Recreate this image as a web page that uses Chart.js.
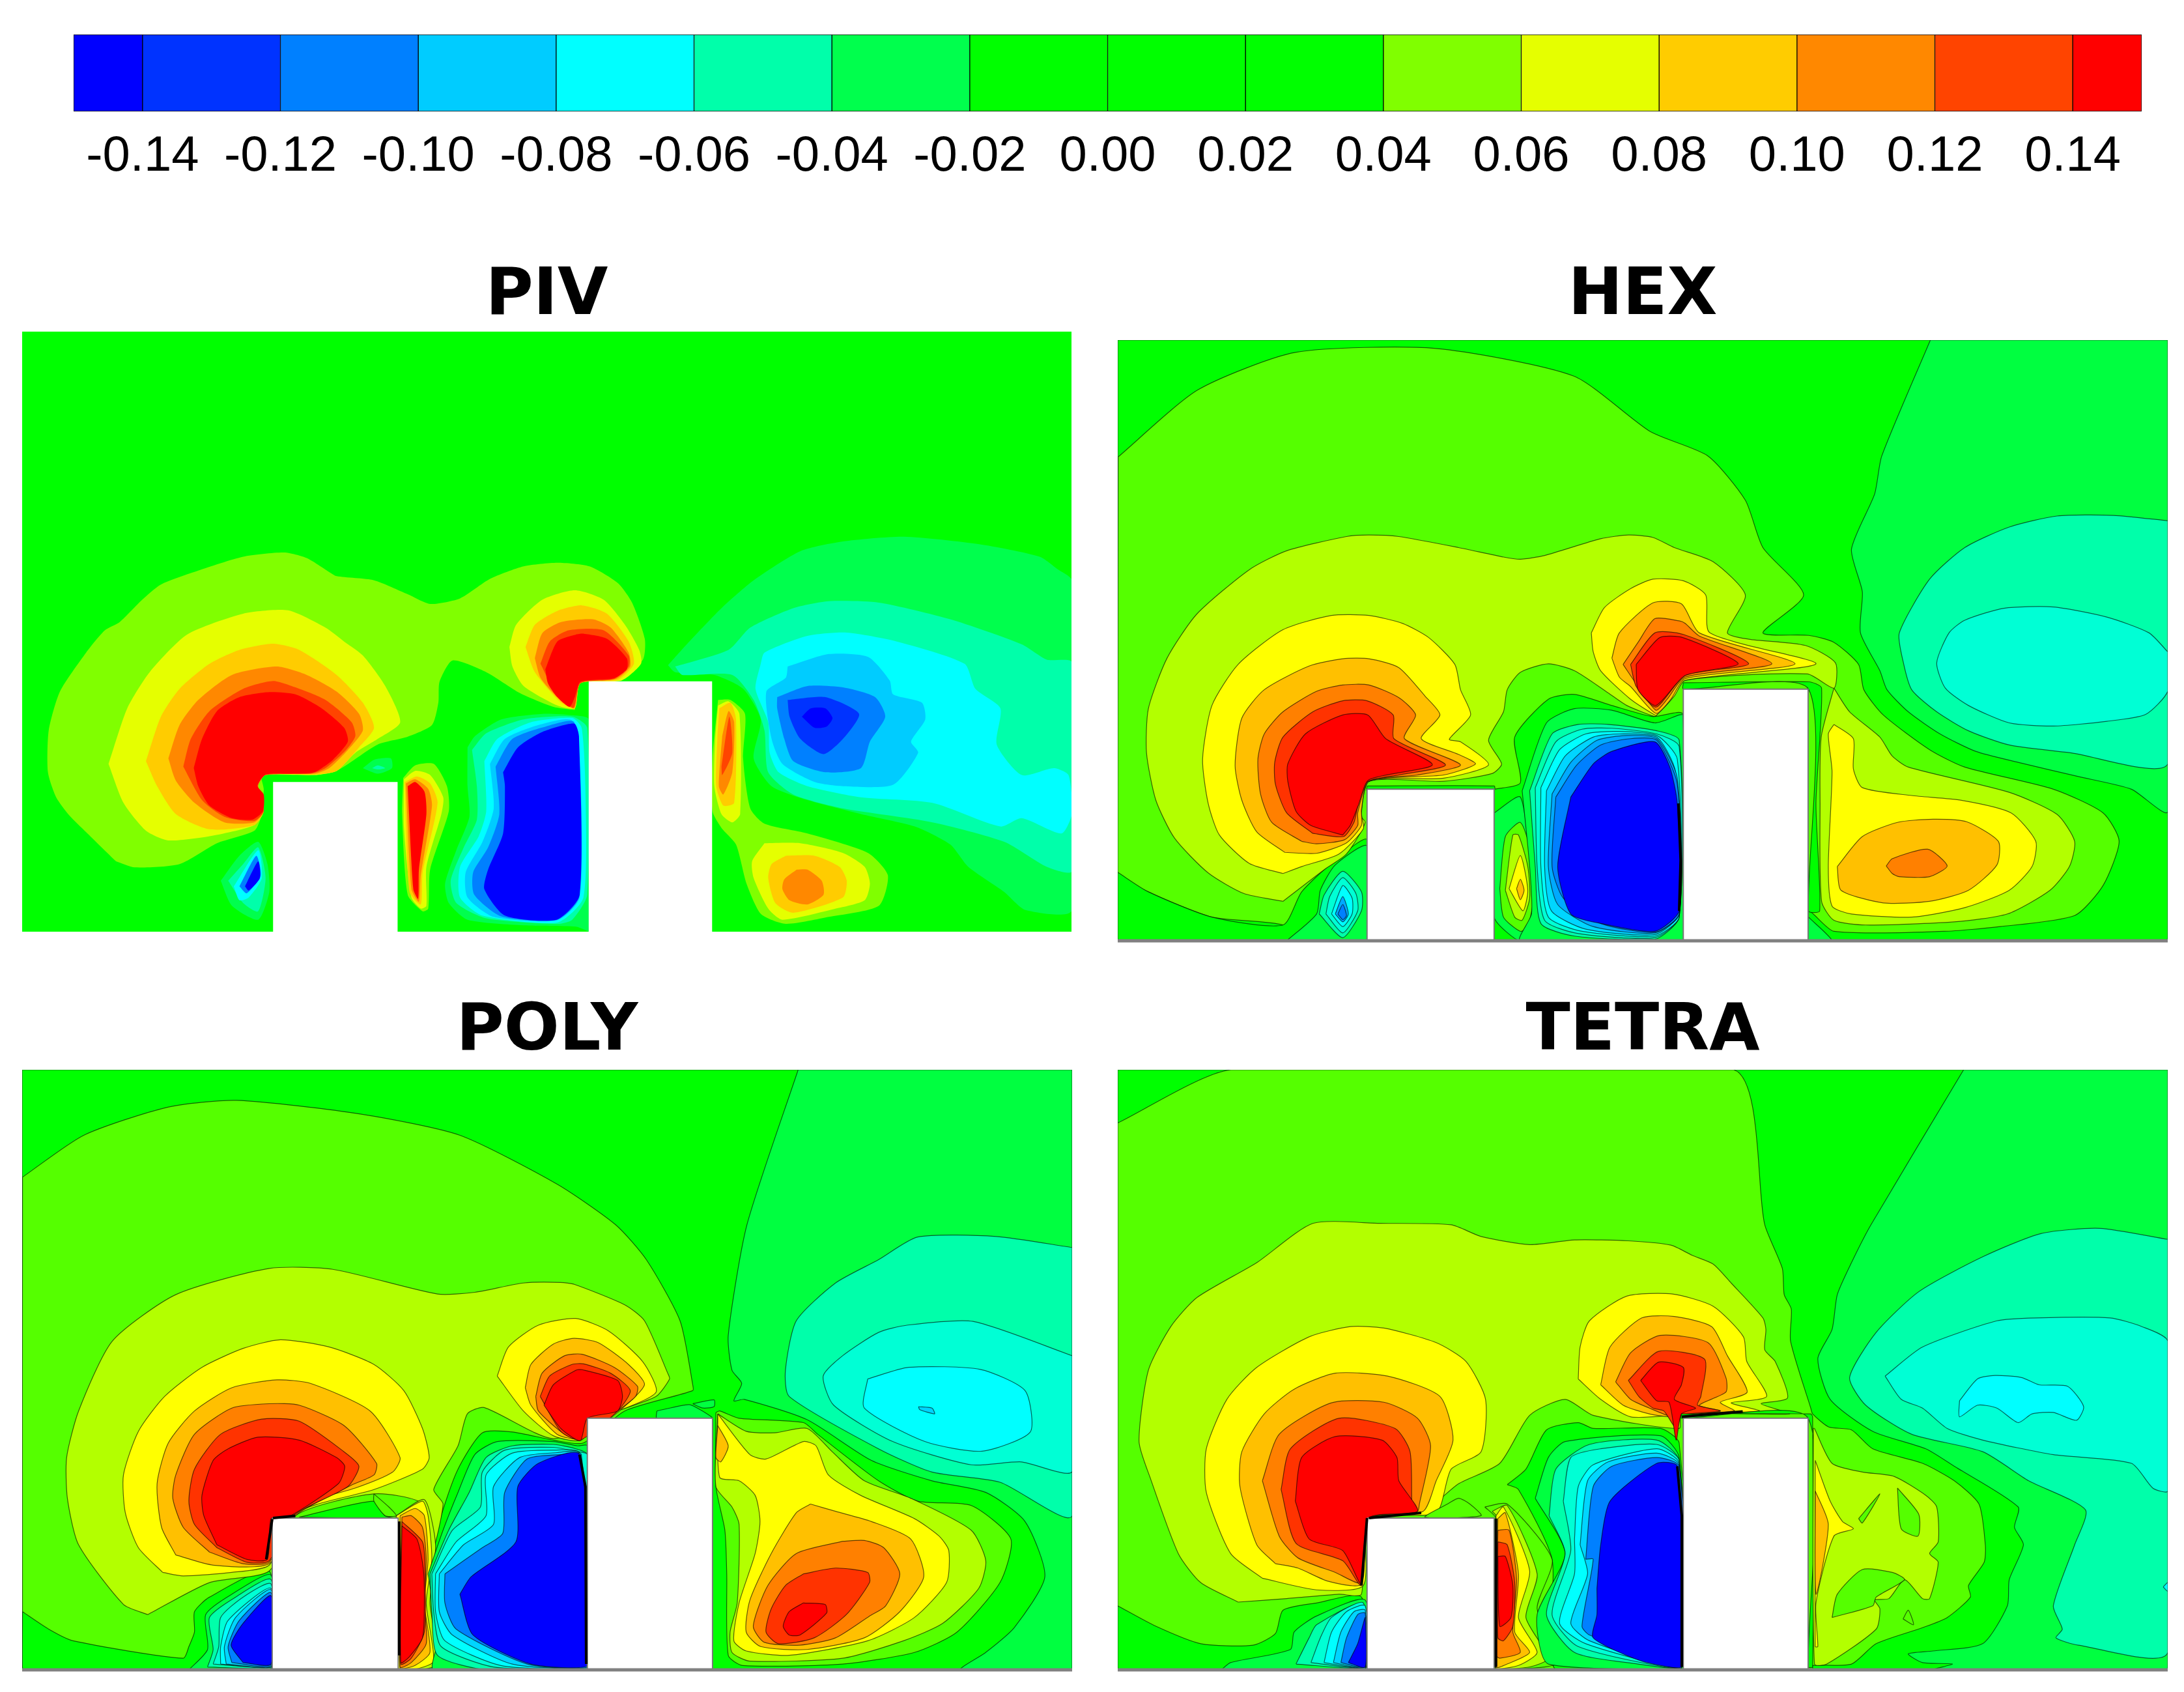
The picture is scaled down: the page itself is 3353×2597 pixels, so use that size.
<!DOCTYPE html>
<html><head><meta charset="utf-8">
<style>html,body{margin:0;padding:0;background:#fff;width:3353px;height:2597px;overflow:hidden}canvas{position:absolute;display:block}</style>
<script src="https://cdn.jsdelivr.net/npm/chart.js@4/dist/chart.umd.min.js"></script>
</head><body>
<script>
// ---------- colour bar ----------
const barEdges=[-0.15,-0.14,-0.12,-0.10,-0.08,-0.06,-0.04,-0.02,0,0.02,0.04,0.06,0.08,0.10,0.12,0.14,0.15];
const barColors=['#0000ff','#0033ff','#0080ff','#00ccff','#00ffff','#00ffaa','#00ff4d','#00ff00','#00ff00','#00ff00','#80ff00','#e5ff00','#ffcc00','#ff8800','#ff4400','#ff0000'];
const barTicks=[-0.14,-0.12,-0.10,-0.08,-0.06,-0.04,-0.02,0,0.02,0.04,0.06,0.08,0.10,0.12,0.14];
// ---------- palettes of the contour levels ----------
const pivPalette={N9:'#0000ff',N8:'#0033ff',N7:'#0080ff',N5:'#00ccff',N4:'#00ffff',N2:'#00ffaa',N1:'#00ff4d',Z:'#00ff00',P1:'#80ff00',P2:'#e5ff00',P4:'#ffcc00',P5:'#ff8800',P6:'#ff4400',P7:'#ff0000',W:'#ffffff'};
const cfdPalette={N9:'#0000ff',N8:'#0040ff',N7:'#0080ff',N6:'#00aaff',N5:'#00d5ff',N4:'#00ffff',N3:'#00ffd5',N2:'#00ffaa',N1:'#00ff40',Z:'#00ff00',P1:'#55ff00',P2:'#b3ff00',P3:'#ffff00',P4:'#ffc000',P5:'#ff8000',P6:'#ff3300',P7:'#ff0000',W:'#ffffff'};
// ---------- contour regions ----------
const pivLayers=[
['Z',[59,-634,2865,-634,2865,1523,59,1523]],
['N1',[1786,565,1843,480,1929,360,2015,260,2140,155,2254,120,2417,103,2618,130,2780,175,2828,220,2866,260,2866,1445,2742,1445,2685,1380,2589,1290,2541,1210,2446,1145,2302,1100,2159,1050,2063,1000,2015,900,2034,760,1987,650,1910,600,1805,590]],
['N2',[1805,570,1948,510,2006,430,2121,360,2216,335,2350,340,2541,400,2732,490,2799,545,2866,555,2866,1305,2799,1290,2685,1200,2493,1130,2254,1080,2121,1030,2054,950,2044,800,2015,690,1958,600,1824,600]],
['N4',[2034,560,2044,520,2159,460,2264,448,2398,480,2579,560,2608,650,2675,720,2665,850,2732,960,2818,935,2857,960,2866,1100,2838,1170,2732,1115,2675,1145,2493,1060,2302,1040,2159,1000,2082,950,2058,880,2054,770,2020,650]],
['N5',[2106,570,2216,525,2321,535,2379,620,2388,670,2465,700,2474,760,2436,840,2455,880,2388,995,2254,1000,2178,985,2092,920,2063,830,2049,660,2101,610]],
['N7',[2078,680,2159,640,2254,645,2340,680,2367,750,2326,840,2302,935,2207,950,2121,910,2097,830,2078,720]],
['N8',[2106,690,2207,680,2297,740,2254,830,2202,885,2140,830,2111,750]],
['N9',[2144,750,2168,720,2207,720,2226,755,2211,785,2178,790]],
['P1',[310,1270,360,1292,480,1280,580,1205,680,1160,700,1100,705,1010,700,960,780,955,840,960,900,945,1010,850,1090,822,1155,780,1172,700,1175,625,1210,548,1300,590,1390,665,1480,715,1530,725,1537,725,1552,630,1652,620,1719,545,1724,470,1690,340,1652,270,1576,210,1490,197,1400,210,1310,255,1230,325,1150,345,1090,310,1000,260,900,245,880,230,820,180,760,160,650,175,530,225,430,275,380,330,320,410,280,440,230,520,160,660,130,800,128,950,150,1040,185,1105,230,1165]],
['P2',[290,920,340,720,400,590,500,455,650,380,770,368,870,430,920,480,970,530,1030,640,1070,770,1010,830,950,880,900,945,840,960,700,960,690,1000,705,1090,680,1140,560,1180,450,1195,390,1160,330,1060]],
['P4',[390,910,430,750,480,650,560,560,640,510,730,488,800,510,900,600,970,700,1000,790,960,860,900,945,840,958,710,960,690,1000,705,1090,680,1140,560,1155,470,1100,420,1000]],
['P5',[450,900,480,780,530,690,620,600,740,570,820,600,900,660,960,740,970,800,930,870,880,935,840,955,710,960,690,1000,705,1090,680,1130,600,1130,520,1060,470,980]],
['P6',[490,930,510,830,560,730,650,650,730,622,790,645,870,690,940,770,950,820,925,870,870,935,830,955,710,960,690,1000,705,1090,680,1125,600,1110,540,1050]],
['P7',[518,935,540,830,580,730,640,680,720,662,790,670,860,720,920,790,930,840,890,905,840,950,780,955,710,958,688,998,705,1030,703,1090,675,1120,620,1115,560,1070,530,1000]],
['N1',[970,935,1000,905,1045,900,1048,935,1010,955]],
['N2',[995,935,1010,925,1030,935,1010,940]],
['N1',[590,1340,640,1250,690,1200,715,1280,720,1380,690,1480,620,1430]],
['N2',[610,1340,650,1280,690,1220,710,1330,690,1450,650,1420]],
['N4',[625,1360,690,1230,700,1330,665,1400,640,1410]],
['N7',[640,1360,685,1250,697,1320,660,1385]],
['N9',[655,1360,690,1270,695,1330,665,1375]],
['P1',[1078,970,1110,925,1160,920,1195,1000,1200,1090,1150,1300,1145,1440,1130,1450,1090,1390,1075,1100]],
['P2',[1080,975,1110,945,1150,960,1185,1040,1180,1100,1140,1290,1140,1430,1125,1440,1100,1400,1080,1150]],
['P4',[1082,985,1115,965,1150,990,1170,1060,1130,1310,1125,1425,1095,1380]],
['P5',[1085,990,1110,975,1145,1010,1155,1070,1125,1320,1120,1415,1100,1370]],
['P7',[1090,1000,1110,985,1135,1020,1140,1100,1120,1300,1118,1405,1105,1370]],
['N1',[1250,860,1270,820,1340,760,1450,740,1530,745,1574,760,1574,1523,1540,1505,1400,1500,1250,1480,1200,1420,1190,1350,1220,1230,1255,1110,1250,1000]],
['N2',[1262,870,1300,810,1400,760,1530,750,1570,790,1570,1390,1530,1480,1490,1495,1300,1475,1220,1420,1205,1340,1240,1220,1275,1120,1275,1000]],
['N4',[1295,910,1330,830,1420,770,1530,755,1555,790,1565,1000,1560,1400,1490,1490,1290,1465,1230,1400,1230,1290,1280,1180,1300,1090]],
['N5',[1310,920,1350,830,1440,780,1530,765,1553,1000,1550,1400,1490,1482,1320,1470,1250,1400,1245,1310,1290,1200,1320,1080]],
['N7',[1325,930,1370,830,1460,785,1535,770,1551,1000,1548,1400,1490,1480,1340,1468,1268,1390,1265,1310,1305,1220,1335,1100]],
['N9',[1345,950,1385,860,1450,805,1535,775,1548,820,1550,1390,1488,1480,1350,1465,1295,1370,1305,1300,1345,1170,1350,1000]],
['P2',[1362,500,1380,420,1450,330,1537,296,1614,330,1671,420,1709,510,1714,560,1662,620,1552,630,1537,720,1490,710,1400,640,1370,570]],
['P4',[1405,500,1430,420,1490,370,1556,350,1623,380,1681,480,1695,560,1652,618,1552,630,1537,720,1500,700,1430,590]],
['P5',[1430,540,1450,450,1500,410,1585,400,1633,430,1681,520,1685,570,1647,615,1552,630,1535,720,1490,680,1445,610]],
['P6',[1445,560,1470,480,1520,440,1614,440,1681,530,1681,570,1642,615,1552,630,1533,718,1480,650]],
['P7',[1458,580,1490,480,1540,455,1561,452,1623,470,1676,540,1676,580,1642,612,1552,625,1537,680,1523,715,1490,680,1465,630]],
['P1',[1920,690,1953,690,1992,740,1987,900,2006,1080,2044,1135,2159,1170,2321,1240,2374,1320,2350,1430,2216,1470,2101,1495,2035,1460,1996,1350,1968,1210,1929,1150,1905,1090,1905,900]],
['P2',[1920,710,1948,695,1977,740,1979,1100,1958,1130,1929,1100,1910,1000,1912,840]],
['P4',[1923,720,1953,700,1968,760,1963,1060,1934,1070,1915,1000,1918,830]],
['P5',[1931,820,1948,730,1963,770,1958,950,1934,1030,1922,1000]],
['P6',[1929,930,1950,750,1958,880,1931,960]],
['P2',[2044,1205,2140,1205,2254,1240,2312,1290,2326,1350,2312,1410,2235,1440,2092,1480,2054,1440,2015,1330,2011,1270]],
['P4',[2101,1250,2178,1250,2245,1290,2264,1340,2254,1400,2121,1455,2073,1420,2054,1330,2063,1280]],
['P5',[2130,1300,2159,1300,2197,1340,2202,1390,2159,1425,2111,1410,2092,1370,2097,1335]],
['W',[730,985,1063,985,1063,1523,730,1523]],
['W',[1574,623,1904,623,1904,1523,1574,1523]]
];
const hexLayers=[
['Z',[28,-367,2837,-367,2837,1535,28,1535]],
['N1',[2202,-367,2072,0,2053,120,1991,295,2020,430,2015,560,2067,680,2086,740,2143,810,2228,880,2323,935,2437,970,2598,1015,2740,1055,2837,1125,2837,-367]],
['N2',[2837,205,2692,188,2541,190,2413,225,2294,290,2200,390,2119,560,2129,650,2152,740,2219,810,2304,870,2413,915,2579,940,2837,975]],
['N3',[2837,620,2787,560,2674,510,2531,478,2399,482,2294,520,2252,560,2219,655,2242,735,2304,790,2413,845,2531,855,2674,840,2778,818,2837,745]],
['P1',[29,3,242,-209,503,-328,875,-341,1248,-253,1453,-77,1607,0,1707,140,1754,290,1863,440,1754,560,1877,568,1944,590,2010,660,2024,740,2076,820,2200,930,2294,985,2531,1055,2664,1130,2707,1220,2664,1360,2588,1455,2389,1490,2238,1505,1944,1505,1876,1440,1876,1535,470,1535,470,1485,280,1460,110,1380,28,1318]],
['Z',[28,1318,110,1380,280,1460,470,1485,520,1380,600,1290,695,1215,695,1535,28,1535]],
['N1',[480,1535,560,1450,570,1375,610,1295,695,1235,695,1535]],
['N2',[567,1450,580,1390,630,1315,680,1380,680,1440,630,1525]],
['N3',[585,1450,595,1395,630,1335,665,1385,670,1440,630,1510]],
['N4',[600,1450,630,1360,655,1400,655,1450,630,1490]],
['N6',[610,1450,630,1395,645,1450,630,1475]],
['N7',[617,1450,630,1420,640,1455,630,1468]],
['P2',[470,1410,365,1385,270,1320,180,1210,130,1090,105,940,110,800,160,640,240,500,380,360,480,300,640,255,700,250,780,255,940,290,1060,320,1105,327,1170,315,1320,262,1395,250,1460,258,1517,290,1621,335,1707,440,1659,560,1716,580,1868,600,1948,655,1944,735,1873,690,1546,710,1498,770,1470,820,1465,825,1390,790,1340,750,1250,680,1180,658,1105,685,1070,740,1060,810,1020,900,1055,975,1030,1005,900,1030,700,1030,670,1130,690,1160,640,1260,580,1310]],
['P3',[470,1322,380,1290,300,1200,270,1100,255,960,280,790,350,660,470,550,600,505,700,505,790,530,860,575,930,660,945,740,972,820,915,897,945,905,1020,978,900,1020,700,1030,680,1130,685,1180,620,1260,520,1300]],
['P4',[475,1255,400,1190,360,1090,342,980,360,830,420,740,540,665,630,642,700,642,780,670,850,760,890,820,840,895,940,945,985,975,900,1010,700,1030,680,1120,680,1170,640,1225,560,1258]],
['P5',[520,1220,440,1160,410,1070,403,960,420,880,470,810,560,745,630,725,700,725,780,765,825,820,795,895,945,978,830,1010,700,1030,670,1130,670,1170,635,1215,560,1228]],
['P6',[550,1195,480,1130,450,1040,448,970,470,890,550,810,630,775,695,775,765,820,767,895,905,978,780,1010,695,1032,670,1110,660,1160,632,1205]],
['P7',[630,1200,545,1170,505,1125,483,1030,483,975,530,880,630,820,697,820,745,895,870,978,700,1025,672,1105,650,1170]],
['Z',[695,1045,1035,1045,1035,1060,695,1060]],
['Z',[1035,1055,1105,1035,1090,890,1180,770,1250,755,1350,790,1460,825,1540,818,1540,1535,1035,1535]],
['N1',[1035,1130,1105,1080,1130,1300,1135,1450,1105,1535,1035,1460]],
['P1',[1050,1370,1065,1205,1105,1160,1130,1240,1140,1400,1125,1490,1105,1505,1060,1460]],
['P2',[1065,1375,1085,1200,1100,1200,1125,1300,1130,1400,1110,1470,1090,1460]],
['P3',[1075,1370,1105,1265,1125,1375,1112,1440]],
['P4',[1095,1370,1105,1340,1115,1375,1105,1405]],
['N1',[1110,1060,1175,845,1250,800,1350,805,1465,845,1530,820,1540,820,1540,1535,1105,1535,1135,1450,1130,1300]],
['N2',[1130,1060,1190,880,1260,850,1340,850,1470,870,1530,900,1530,1460,1465,1530,1250,1520,1160,1480,1145,1300]],
['N3',[1145,1050,1200,905,1270,865,1350,862,1470,880,1530,920,1530,1460,1465,1525,1260,1512,1170,1470,1150,1300]],
['N4',[1160,1050,1210,930,1280,880,1360,872,1470,885,1525,960,1530,1460,1465,1520,1270,1505,1180,1460,1160,1300]],
['N5',[1175,1060,1225,950,1300,890,1370,880,1470,890,1520,1000,1530,1450,1465,1515,1280,1498,1188,1440,1170,1300]],
['N6',[1190,1070,1240,970,1310,900,1390,885,1470,895,1525,1020,1530,1450,1465,1510,1300,1490,1205,1420,1180,1300]],
['N7',[1200,1080,1255,980,1320,915,1400,895,1470,900,1525,1040,1530,1450,1465,1508,1320,1480,1220,1400,1190,1300]],
['N9',[1240,1080,1300,975,1350,935,1465,905,1505,985,1525,1100,1530,1440,1465,1505,1320,1480,1240,1450,1205,1300]],
['P3',[1295,560,1330,480,1400,420,1460,390,1541,395,1601,440,1612,560,1896,658,1546,710,1517,760,1470,820,1465,820,1400,770,1320,680,1300,620]],
['P4',[1350,640,1370,560,1460,465,1536,468,1584,560,1840,658,1546,705,1508,770,1468,815,1400,730,1370,700]],
['P5',[1380,660,1420,590,1465,515,1530,522,1546,530,1584,570,1778,658,1546,700,1498,770,1468,805,1420,730]],
['P6',[1400,660,1465,560,1541,565,1716,658,1546,695,1468,795,1415,730]],
['P7',[1415,660,1478,575,1540,575,1688,658,1546,695,1468,790,1420,740]],
['Z',[1541,718,1877,715,1911,735,1896,1100,1906,1440,1876,1440,1876,738,1541,738]],
['N1',[1876,1460,1939,1535,1876,1535]],
['P2',[1944,735,1986,810,2067,890,2100,950,2143,985,2413,1065,2541,1135,2588,1220,2574,1300,2522,1375,2408,1450,2266,1475,2029,1485,1944,1470,1911,1410,1907,1100,1910,890]],
['P3',[1944,850,1996,895,1996,990,2020,1050,2152,1075,2285,1090,2418,1130,2484,1220,2474,1300,2413,1375,2294,1430,2152,1460,1991,1450,1939,1425,1929,1300,1939,1000,1929,880]],
['P4',[1953,1300,2020,1205,2114,1160,2209,1150,2299,1158,2384,1220,2380,1295,2304,1375,2200,1410,2076,1415,1963,1375]],
['P5',[2084,1298,2100,1275,2195,1245,2247,1298,2200,1332,2119,1332,2100,1322]],
['W',[695,1055,1035,1055,1035,1535,695,1535]],
['W',[1541,738,1875,738,1875,1535,1541,1535]]
];
const polyLayers=[
['Z',[59,-533,2868,-533,2868,1530,59,1530]],
['N1',[2135,-533,1998,0,1948,380,1958,500,1984,545,1963,605,1991,600,2159,670,2331,810,2493,880,2637,920,2742,1020,2795,1210,2713,1385,2637,1470,2570,1530,2868,1530,2868,-533]],
['N2',[2868,78,2665,40,2455,42,2350,120,2235,200,2130,330,2101,500,2111,590,2350,770,2493,850,2675,885,2868,1000]],
['N3',[2868,450,2603,332,2426,345,2350,370,2254,450,2202,520,2230,620,2388,745,2598,825,2732,815,2868,848]],
['N4',[2321,530,2431,490,2622,497,2742,570,2756,712,2627,778,2474,745,2312,630]],
['N5',[2457,625,2493,630,2500,650,2460,635]],
['P1',[60,-164,224,-308,447,-404,633,-428,969,-380,1230,-308,1490,-140,1647,0,1729,120,1819,330,1853,550,1853,570,1671,640,1560,750,1480,740,1370,712,1290,715,1225,840,1180,1000,1150,1150,1140,1530,60,1530]],
['Z',[60,1330,130,1390,195,1430,490,1490,505,1450,520,1400,520,1330,560,1280,720,1190,720,1530,60,1530]],
['P2',[395,1340,330,1305,210,1100,180,940,178,800,210,640,300,400,470,240,720,150,890,153,1170,238,1270,232,1400,200,1499,198,1537,205,1671,275,1724,330,1786,510,1791,530,1755,590,1652,640,1480,735,1295,628,1250,650,1225,760,1160,910,1185,960,1150,1150,1130,960,1000,925,790,1000,720,1190,560,1230]],
['P3',[435,1195,370,1110,335,990,330,860,370,710,440,590,540,490,650,425,750,395,880,420,1000,480,1080,570,1130,700,1148,800,1130,840,1000,910,850,960,780,1000,720,1170,620,1195,490,1207]],
['P4',[470,1135,432,1040,420,890,450,750,520,640,620,560,740,533,830,545,990,640,1070,800,1050,850,950,905,830,950,780,1000,720,1165,570,1170]],
['P5',[560,1125,490,1040,462,940,470,860,520,720,620,630,720,615,800,620,920,690,1007,820,1000,860,940,895,790,1000,720,1160,650,1165]],
['P6',[580,1110,520,1030,505,950,520,840,590,720,700,668,800,675,920,780,960,830,930,900,785,1000,720,1155,660,1160]],
['P7',[580,1100,545,1000,540,930,570,810,610,770,690,730,800,740,900,800,922,830,905,890,770,1005,725,1010,715,1150,660,1150]],
['Z',[800,1005,1000,950,1030,1000,1065,1010]],
['P1',[1000,925,1040,970,1060,1000,1030,1000,1000,950]],
['P2',[1060,1000,1135,945,1165,1100,1150,1300,1172,1510,1120,1530,1065,1530]],
['P3',[1060,1000,1130,950,1145,1000,1155,1150,1140,1300,1160,1500,1120,1525,1065,1530]],
['P4',[1070,1000,1110,975,1135,1000,1145,1150,1135,1300,1150,1470,1110,1515,1070,1525]],
['P5',[1075,1005,1100,1000,1130,1040,1140,1150,1135,1300,1140,1440,1100,1505,1070,1520]],
['P6',[1075,1020,1130,1090,1137,1200,1135,1400,1100,1490,1072,1510]],
['P7',[1075,1035,1115,1080,1132,1180,1135,1300,1130,1420,1095,1485,1072,1505]],
['N1',[505,1530,555,1460,550,1340,620,1270,725,1205,725,1530]],
['N2',[555,1520,570,1460,560,1350,630,1280,725,1220,725,1525]],
['N3',[570,1510,585,1450,590,1350,650,1280,725,1235,725,1520]],
['N4',[590,1510,590,1450,610,1360,725,1250,725,1520]],
['N5',[605,1510,600,1450,630,1350,725,1255,725,1520]],
['N7',[620,1505,610,1450,640,1360,725,1265,725,1515]],
['N9',[650,1505,618,1445,650,1370,725,1275,725,1510]],
['N1',[1145,1200,1185,1050,1225,920,1270,790,1330,745,1480,745,1545,760,1571,760,1571,1530,1160,1530,1170,1430]],
['N2',[1150,1200,1200,1050,1255,920,1300,800,1370,760,1480,755,1540,770,1571,790,1571,1530,1300,1530,1170,1480,1155,1330]],
['N3',[1155,1200,1210,1050,1285,970,1290,850,1350,775,1480,765,1545,780,1571,790,1571,1530,1320,1520,1180,1450,1160,1330]],
['N4',[1165,1200,1220,1090,1300,1000,1300,860,1370,785,1480,775,1550,785,1571,1530,1340,1515,1190,1430,1165,1330]],
['N5',[1175,1200,1240,1100,1320,1030,1320,900,1390,800,1490,783,1550,785,1571,1525,1370,1510,1210,1410,1175,1330]],
['N7',[1190,1200,1290,1110,1345,1060,1350,920,1410,805,1500,790,1555,790,1571,1520,1410,1510,1220,1390,1190,1300]],
['N9',[1230,1270,1260,1210,1380,1090,1385,900,1440,820,1550,790,1571,1515,1420,1510,1265,1410]],
['P3',[1330,520,1360,420,1440,345,1540,322,1628,365,1719,470,1755,575,1652,640,1600,650,1556,740,1480,725,1400,640]],
['P4',[1405,560,1420,480,1480,410,1535,390,1600,405,1681,480,1724,550,1652,645,1552,735,1490,720,1420,620]],
['P5',[1433,590,1450,510,1510,450,1557,445,1643,490,1705,555,1700,590,1652,640,1552,735,1510,720,1440,640]],
['P6',[1445,590,1470,520,1530,480,1561,478,1633,510,1686,570,1652,640,1552,740,1500,710]],
['P7',[1455,620,1480,550,1540,500,1557,498,1652,535,1665,590,1652,640,1571,665,1552,742,1500,700]],
['N1',[1757,640,1843,618,1872,635,1905,665,1757,665]],
['N1',[1853,615,1910,602,1910,625,1880,630]],
['P1',[1915,645,1925,640,1977,665,2149,680,2187,720,2350,880,2455,950,2598,965,2704,1080,2675,1230,2560,1400,2446,1470,2254,1510,1987,1515,1948,1480,1944,1200,1939,1050,1915,900]],
['P2',[1920,650,1996,710,2073,715,2159,700,2226,780,2312,880,2436,940,2598,1050,2637,1155,2618,1250,2522,1370,2417,1430,2254,1490,2006,1500,1958,1470,1953,1400,1972,1300,1977,1030,1958,970,1915,900]],
['P3',[1920,650,2006,790,2049,805,2149,745,2183,760,2216,860,2302,930,2446,1010,2512,1070,2538,1120,2532,1230,2446,1350,2321,1430,2111,1480,1996,1465,1963,1430,1977,1300,2020,1130,2033,1020,2020,930,1977,880,1925,868]],
['P4',[1920,690,1948,760,1928,815,1915,800]],
['P4',[2168,960,2235,985,2331,1020,2436,1080,2471,1210,2407,1330,2312,1420,2159,1460,2035,1450,1996,1400,2006,1290,2063,1130,2130,990]],
['P5',[2254,1088,2312,1085,2364,1110,2407,1200,2369,1310,2326,1345,2235,1420,2140,1445,2044,1435,2015,1380,2054,1240,2130,1130]],
['P6',[2149,1200,2235,1180,2321,1195,2326,1230,2264,1340,2178,1420,2082,1440,2049,1400,2063,1320,2101,1240]],
['P7',[2149,1300,2207,1305,2211,1335,2140,1410,2111,1410,2095,1380,2111,1330]],
['W',[728,1008,1065,1008,1065,1530,728,1530]],
['W',[1571,665,1906,665,1906,1530,1571,1530]]
];
const tetraLayers=[
['Z',[28,-533,2837,-533,2837,1530,28,1530]],
['N1',[2291,-533,2043,0,1991,130,1953,240,1939,360,1901,460,1934,600,2048,710,2190,770,2266,830,2437,970,2427,1040,2451,1100,2413,1220,2408,1310,2342,1440,2209,1465,2143,1475,2181,1505,2261,1510,2209,1530,2837,1530,2837,-533]],
['N2',[2837,50,2655,12,2498,30,2342,110,2171,230,2057,370,1986,525,2029,620,2152,720,2342,780,2465,880,2617,980,2588,1100,2531,1310,2555,1390,2538,1420,2598,1445,2837,1470]],
['N3',[2081,520,2181,420,2380,330,2484,320,2683,320,2768,350,2837,400,2837,915,2797,905,2740,820,2531,790,2342,740,2247,700,2181,630,2124,600]],
['N4',[2280,605,2328,530,2375,518,2446,525,2493,550,2569,555,2612,625,2593,672,2531,645,2474,650,2437,680,2380,630,2328,620,2280,660]],
['N4',[2825,1245,2837,1230,2837,1260]],
['P1',[28,-350,331,-533,1676,-533,1759,0,1806,150,1811,240,1830,290,1828,400,1882,630,1887,650,1930,695,1991,705,2048,770,2181,820,2266,880,2332,960,2349,1100,2346,1160,2304,1240,2309,1280,2247,1350,2181,1385,2057,1440,1991,1510,1887,1515,1887,1530,28,1530]],
['Z',[28,1310,130,1380,250,1440,390,1445,450,1405,470,1325,560,1300,680,1280,700,1530,28,1530]],
['N1',[305,1530,330,1505,490,1460,500,1400,560,1345,690,1290,690,1530]],
['N2',[505,1510,540,1420,560,1375,680,1305,690,1525]],
['N3',[545,1505,570,1420,600,1350,685,1300,690,1525]],
['N4',[580,1505,600,1400,640,1330,690,1310,690,1525]],
['N5',[605,1505,625,1400,660,1330,690,1325,690,1525]],
['N7',[625,1505,640,1420,670,1340,690,1335,690,1520]],
['N9',[645,1505,670,1440,685,1370,690,1350,690,1520]],
['P2',[350,1297,250,1230,190,1130,115,870,85,745,110,500,170,350,240,250,400,130,550,-5,730,-5,920,0,1000,40,1130,68,1250,52,1394,55,1508,70,1565,105,1621,135,1669,200,1754,320,1762,360,1759,430,1787,470,1820,595,1749,615,1825,650,1536,650,1530,700,1300,655,1225,600,1130,655,1050,820,940,890,850,980,690,1010,680,1270,620,1270,480,1285]],
['P3',[415,1215,330,1130,265,920,265,770,320,600,400,490,540,385,650,350,740,355,880,405,960,470,1012,600,1000,780,920,840,880,990,700,1010,685,1240,560,1255]],
['P4',[450,1165,400,1100,355,900,360,780,420,650,500,565,610,510,750,520,890,590,925,740,880,880,845,985,700,1010,680,1235,590,1225,510,1180]],
['P5',[415,880,460,720,600,612,740,610,830,665,865,760,835,960,830,985,700,1010,680,1230,610,1195,510,1145,460,1070]],
['P6',[465,910,490,770,620,665,770,700,810,780,815,960,820,985,700,1008,680,1240,630,1155,505,1095]],
['P7',[503,950,520,800,610,728,735,740,775,800,780,880,830,985,700,1008,680,1235,630,1120,540,1080]],
['P1',[910,960,940,940,970,960,1000,1000,850,1005]],
['Z',[1070,893,1120,840,1175,705,1260,680,1300,700,1480,700,1530,750,1540,1530,1200,1530,1190,1150,1100,910]],
['P1',[1010,970,1070,960,1190,1150,1150,1320,1215,1500,1170,1520,1040,1530,1040,1010]],
['P2',[1030,985,1070,965,1150,1200,1120,1350,1180,1490,1130,1520,1040,1530,1040,1000]],
['P3',[1040,1000,1060,970,1130,1190,1100,1350,1150,1470,1100,1515,1040,1525]],
['P4',[1045,1010,1065,990,1100,1200,1090,1400,1130,1470,1070,1510,1040,1520]],
['P5',[1045,1050,1075,1050,1095,1220,1085,1400,1105,1470,1050,1490,1040,1480]],
['P6',[1045,1090,1070,1100,1090,1230,1085,1380,1060,1430,1045,1420]],
['P7',[1045,1140,1065,1140,1085,1240,1080,1350,1050,1380]],
['N1',[1145,940,1180,800,1225,745,1480,725,1530,800,1535,1525,1180,1510,1150,1340,1225,1130]],
['N2',[1182,1000,1200,840,1290,755,1470,740,1530,810,1535,1525,1420,1510,1250,1470,1175,1340,1225,1130]],
['N3',[1220,950,1240,800,1320,770,1470,755,1530,810,1535,1525,1260,1450,1190,1340,1240,1120]],
['N4',[1250,1080,1260,900,1300,825,1470,770,1530,820,1535,1525,1280,1440,1210,1370,1250,1200]],
['N5',[1265,1100,1285,880,1340,815,1470,785,1530,825,1535,1525,1290,1430,1240,1370,1285,1200]],
['N7',[1280,1150,1300,900,1350,830,1470,800,1530,830,1535,1525,1290,1410,1270,1380,1300,1150]],
['N9',[1310,1250,1320,1100,1345,950,1470,820,1525,830,1535,1520,1430,1500,1300,1420,1310,1340]],
['P3',[1260,530,1265,420,1290,330,1390,245,1512,238,1621,280,1702,385,1711,470,1764,590,1669,612,1745,640,1536,650,1510,655,1400,660,1320,600]],
['P4',[1320,550,1345,420,1430,320,1517,315,1617,350,1659,450,1712,575,1640,610,1678,640,1536,650,1510,660,1450,650,1380,620]],
['P5',[1360,540,1400,440,1479,380,1607,405,1655,525,1655,575,1584,620,1640,640,1536,655,1510,660,1450,630,1400,600]],
['P6',[1394,535,1475,435,1598,462,1588,590,1579,620,1640,640,1536,655,1522,700,1489,640,1460,630,1422,590]],
['P7',[1427,535,1475,472,1541,490,1536,550,1517,600,1574,630,1536,650,1522,740,1503,610,1470,605]],
['Z',[1536,650,1882,650,1887,660,1887,1520,1875,1520,1875,665,1536,665]],
['P2',[1892,700,1939,820,2020,850,2105,865,2190,930,2219,970,2223,1090,2200,1130,2223,1160,2200,1285,2181,1285,2133,1220,2091,1285,2053,1290,2067,1320,2057,1390,1925,1510,1892,1510,1889,700]],
['P1',[2010,1010,2067,925,2020,1025]],
['P1',[2114,905,2171,995,2169,1070,2124,1045]],
['P1',[1939,1350,1953,1270,2020,1185,2100,1195,2133,1220,2057,1280,2048,1310]],
['P1',[2129,1355,2143,1325,2157,1375]],
['P3',[1894,810,1934,950,1967,1020,1996,1045,1944,1070,1896,1300,1901,1450,1894,1450]],
['P4',[1894,915,1929,1030,1896,1270]],
['W',[695,1008,1035,1008,1035,1530,695,1530]],
['W',[1541,665,1875,665,1875,1530,1541,1530]]
];
// dark, crowded contour lines hugging the walls, drawn as thick strokes
const hexWalls=[[1528,1100,1534,1280,1530,1440]];
const polyWalls=[[728,1012,712,1150],[1550,790,1566,900,1568,1510],[1068,1020,1068,1480],[730,1008,790,1000]];
const tetraWalls=[[695,1008,680,1240],[700,1008,840,990],[1537,660,1700,642],[1525,830,1537,1000,1537,1520],[1040,1010,1040,1520]];
// ---------- panels ----------
const panelTitles=['PIV','HEX','POLY','TETRA'];
const panelLayers=[pivLayers,hexLayers,polyLayers,tetraLayers];
const panelWalls=[[],hexWalls,polyWalls,tetraWalls];
const panelPalettes=[pivPalette,cfdPalette,cfdPalette,cfdPalette];
const panelLineColor=[null,'rgba(0,0,0,0.62)','rgba(0,0,0,0.62)','rgba(0,0,0,0.62)'];
const panelUnits=[[59,2865,-634,1523],[28,2837,-367,1535],[59,2868,-533,1530],[28,2837,-533,1530]];
const panelPixels=[[34,1645,509,1430],[1716,3328,522,1444],[34,1646,1642,2563],[1716,3328,1642,2563]];
const panelTitleTop=[406,406,1535,1535];

function makeCanvas(l,t,w,h){const c=document.createElement('canvas');c.width=w;c.height=h;c.style.left=l+'px';c.style.top=t+'px';c.style.width=w+'px';c.style.height=h+'px';document.body.appendChild(c);return c;}
function pts(flat,close){const p=[];for(let i=0;i<flat.length;i+=2)p.push({x:flat[i],y:flat[i+1]});if(close)p.push({x:flat[0],y:flat[1]});return p;}

panelTitles.forEach((title,k)=>{
  const layers=panelLayers[k],pal=panelPalettes[k],line=panelLineColor[k];
  const [umin,umax,vmin,vmax]=panelUnits[k],[x0,x1,y0,y1]=panelPixels[k],tt=panelTitleTop[k];
  const n=layers.length;
  const datasets=layers.map(([key,flat],i)=>({
    label:key,data:pts(flat,true),showLine:true,fill:'shape',tension:(key==='W'||i===0)?0:0.22,pointRadius:0,
    backgroundColor:pal[key],
    borderColor:key==='W'?(line?'#777777':'#ffffff'):(line||pal[key]),
    borderWidth:key==='W'?(line?2:0):(line?1.2:0),
    order:n-i+1
  }));
  panelWalls[k].forEach(w=>datasets.push({label:'wall',data:pts(w,false),showLine:true,fill:false,pointRadius:0,borderColor:'#000',borderWidth:4,order:1}));
  if(line)datasets.push({label:'base',data:[{x:umin,y:vmax},{x:umax,y:vmax}],showLine:true,fill:false,pointRadius:0,borderColor:'#808080',borderWidth:5,order:0,clip:6});
  new Chart(makeCanvas(x0,tt,x1-x0,y1-tt+4),{type:'scatter',data:{datasets},options:{
    responsive:false,animation:false,
    layout:{padding:{left:0,right:0,top:0,bottom:4}},
    plugins:{legend:{display:false},tooltip:{enabled:false},
      title:{display:true,text:title,color:'#000',font:{family:'"DejaVu Sans"',weight:'bold',size:100,lineHeight:1},padding:{top:0,bottom:y0-tt-100}}},
    scales:{x:{type:'linear',display:false,min:umin,max:umax},y:{type:'linear',display:false,reverse:true,min:vmin,max:vmax}}
  }});
});
// ---------- colour bar chart ----------
new Chart(makeCanvas(113,53,3175,240),{type:'bar',data:{labels:['v'],datasets:barColors.map((col,i)=>({
    data:[[barEdges[i],barEdges[i+1]]],backgroundColor:col,borderColor:'#000',borderWidth:1,borderSkipped:false,barPercentage:1,categoryPercentage:1,grouped:false}))},
  options:{indexAxis:'y',responsive:false,animation:false,layout:{padding:0,autoPadding:false},
    plugins:{legend:{display:false},tooltip:{enabled:false}},
    scales:{y:{display:false},
      x:{type:'linear',min:-0.15,max:0.15,grid:{display:false},border:{display:false},
        afterBuildTicks:s=>{s.ticks=barTicks.map(v=>({value:v}));},
        afterFit:s=>{s.height=122;},
        ticks:{autoSkip:false,maxRotation:0,color:'#000',padding:16,font:{family:'"Liberation Sans"',size:76},callback:v=>Number(v).toFixed(2)}}}
  }});
</script>
</body></html>
